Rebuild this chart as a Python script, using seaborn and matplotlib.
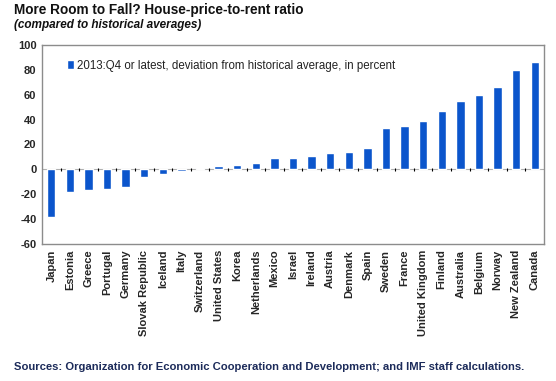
import matplotlib
matplotlib.use("Agg")
import matplotlib.pyplot as plt
import seaborn as sns
import pandas as pd
import numpy as np

countries = ["Japan", "Estonia", "Greece", "Portugal", "Germany", "Slovak Republic",
             "Iceland", "Italy", "Switzerland", "United States", "Korea", "Netherlands",
             "Mexico", "Israel", "Ireland", "Austria", "Denmark", "Spain", "Sweden",
             "France", "United Kingdom", "Finland", "Australia", "Belgium", "Norway",
             "New Zealand", "Canada"]
values = [-38, -18.5, -16.5, -15.5, -14, -6.5, -3.5, -1, 1, 2.5, 3.5, 5.5,
          9.5, 9.5, 10.5, 13, 14, 17.5, 33.5, 35, 38.5, 47, 55, 60, 66.5, 80, 86.5]
yticks = [-60, -40, -20, 0, 20, 40, 60, 80, 100]
series_label = "2013:Q4 or latest, deviation from historical average, in percent"

df = pd.DataFrame({"country": countries, "value": values})

sns.set_style("white")
plt.rcParams['font.family'] = ['Liberation Sans', 'DejaVu Sans']

fig = plt.figure(figsize=(5.56, 3.81), dpi=100)
ax = fig.add_axes([42/556, 1-244/381, (544-42)/556, (244-45)/381])

bar_color = "#0B55CC"
sns.barplot(data=df, x="country", y="value", color=bar_color, width=0.45,
            saturation=1, ax=ax, label=series_label)

ax.set_ylim(-60, 100)
ax.set_xlim(-0.5, len(countries) - 0.5)
ax.set_yticks(yticks)
ax.set_yticklabels([str(t) for t in yticks], fontsize=8, fontweight="bold")
ax.set_xticks(range(len(countries)))
ax.set_xticklabels(countries, rotation=90, fontsize=8, fontweight="bold")
ax.tick_params(axis="both", length=0, pad=4)
ax.set_xlabel("")
ax.set_ylabel("")
for s in ax.spines.values():
    s.set_color("#8c8c8c")
    s.set_linewidth(1)

ax.axhline(0, color="#b0b0b0", lw=0.8, zorder=0)
bounds = np.arange(len(countries) - 1) + 0.5
ax.vlines(bounds, -1.5, 1.5, color="black", lw=0.8, zorder=1)

leg = ax.legend(loc="upper left", bbox_to_anchor=(0.04, 0.95), frameon=False,
                fontsize=8.3, handlelength=0.6, handleheight=0.7, handletextpad=0.3,
                borderaxespad=0)
for t in leg.get_texts():
    t.set_color("#222222")

fig.text(14/556, 1-10/381, "More Room to Fall? House-price-to-rent ratio",
         fontsize=9.8, fontweight="bold", va="center", ha="left", color="#111111")
fig.text(14/556, 1-25/381, "(compared to historical averages)",
         fontsize=8.5, fontweight="bold", style="italic", va="center", ha="left", color="#111111")
fig.text(14/556, 1-367/381,
         "Sources: Organization for Economic Cooperation and Development; and IMF staff calculations.",
         fontsize=8.1, fontweight="bold", va="center", ha="left", color="#1C2B5A")

fig.savefig("out.png", dpi=100)
